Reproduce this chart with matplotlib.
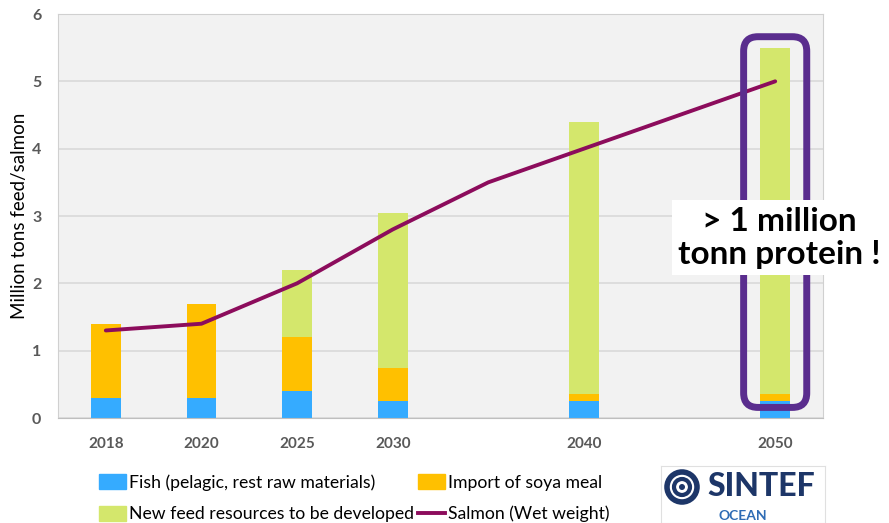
import numpy as np
import matplotlib.pyplot as plt
from matplotlib.patches import FancyBboxPatch, Patch, Circle
from matplotlib.lines import Line2D

plt.rcParams['font.family'] = ['Lato', 'DejaVu Sans']

# slots 4 and 6 are unlabelled gaps on the category axis
years = ['2018', '2020', '2025', '2030', '', '2040', '', '2050']
fish = [0.3, 0.3, 0.4, 0.25, np.nan, 0.25, np.nan, 0.25]
soya = [1.1, 1.4, 0.8, 0.5, np.nan, 0.1, np.nan, 0.1]
new_feed = [0.0, 0.0, 1.0, 2.3, np.nan, 4.05, np.nan, 5.15]
salmon = [1.3, 1.4, 2.0, 2.8, 3.5, 4.0, 4.5, 5.0]

c_fish = '#35ABFF'
c_soya = '#FFC000'
c_new = '#D4E76C'
c_salmon = '#8C0C5C'
c_box = '#5A2D8E'

fig = plt.figure(figsize=(8.89, 5.23), dpi=100)
ax = fig.add_axes([58/889, 1-418/523, (823-58)/889, (418-14)/523])
ax.set_facecolor('#F2F2F2')

x = np.arange(len(years))
fish_a = np.array(fish)
soya_a = np.array(soya)
new_a = np.array(new_feed)
w = 0.31
ax.bar(x, fish_a, w, color=c_fish, zorder=2)
ax.bar(x, soya_a, w, bottom=fish_a, color=c_soya, zorder=2)
ax.bar(x, new_a, w, bottom=fish_a + soya_a, color=c_new, zorder=2)
ax.plot(x, salmon, color=c_salmon, lw=2.8, zorder=3, solid_capstyle='round')

ax.set_xlim(-0.5, len(years) - 0.5)
ax.set_ylim(0, 6)
ax.set_yticks(range(7))
ax.set_xticks(x)
ax.set_xticklabels(years)
ax.tick_params(length=0, colors='#595959', labelsize=11)
ax.tick_params(axis='x', pad=14)
ax.tick_params(axis='y', pad=12, labelsize=11.5)
for lab in ax.get_xticklabels() + ax.get_yticklabels():
    lab.set_fontweight('bold')
ax.grid(axis='y', color='#D9D9D9', lw=1.2, zorder=0)
ax.set_axisbelow(True)
for s in ax.spines.values():
    s.set_color('#D0D0D0')
ax.spines['bottom'].set_color('#BFBFBF')
ax.set_ylabel('Million tons feed/salmon', fontsize=13.5, labelpad=3)

# highlight box round the 2050 bar
box = FancyBboxPatch((7 - 0.3, 0.2), 0.6, 5.42,
                     boxstyle='round,pad=0.03,rounding_size=0.15',
                     fill=False, ec=c_box, lw=5, zorder=4,
                     mutation_aspect=6/4.2)
ax.add_patch(box)

fig.text(0.877, 0.545, '> 1 million\ntonn protein !', ha='center', va='center',
         fontsize=24, fontweight='bold', linespacing=1.15, zorder=10,
         bbox=dict(boxstyle='square,pad=0.2', fc='white', ec='none'))

handles = [Patch(color=c_fish), Patch(color=c_new),
           Patch(color=c_soya), Line2D([], [], color=c_salmon, lw=2.8)]
labels = ['Fish (pelagic, rest raw materials)', 'New feed resources to be developed',
          'Import of soya meal', 'Salmon (Wet weight)']
fig.legend(handles, labels, ncol=2, loc='upper left', bbox_to_anchor=(92/889, 1-467/523),
           frameon=False, fontsize=12.7, handlelength=1.55, handleheight=0.95,
           handletextpad=0.15, columnspacing=0.2, labelspacing=0.85, borderaxespad=0)

# SINTEF logo
lax = fig.add_axes([661/889, 0, (825-661)/889, (523-466)/523])
lax.set_xlim(0, 164)
lax.set_ylim(0, 57)
lax.set_xticks([])
lax.set_yticks([])
for s in lax.spines.values():
    s.set_color('#E0E0E0')
navy = '#1D3668'
lax.add_patch(Circle((21, 36), 15, fill=False, ec=navy, lw=4))
lax.add_patch(Circle((21, 36), 8, fill=False, ec=navy, lw=3))
lax.add_patch(Circle((21, 36), 3, fc=navy, ec='none'))
lax.text(100, 36, 'SINTEF', ha='center', va='center', fontsize=23,
         fontweight='black', color=navy)
lax.text(82, 7, 'OCEAN', ha='center', va='center', fontsize=10,
         fontweight='bold', color='#2F6CB5')

fig.savefig('out.png', dpi=100)
